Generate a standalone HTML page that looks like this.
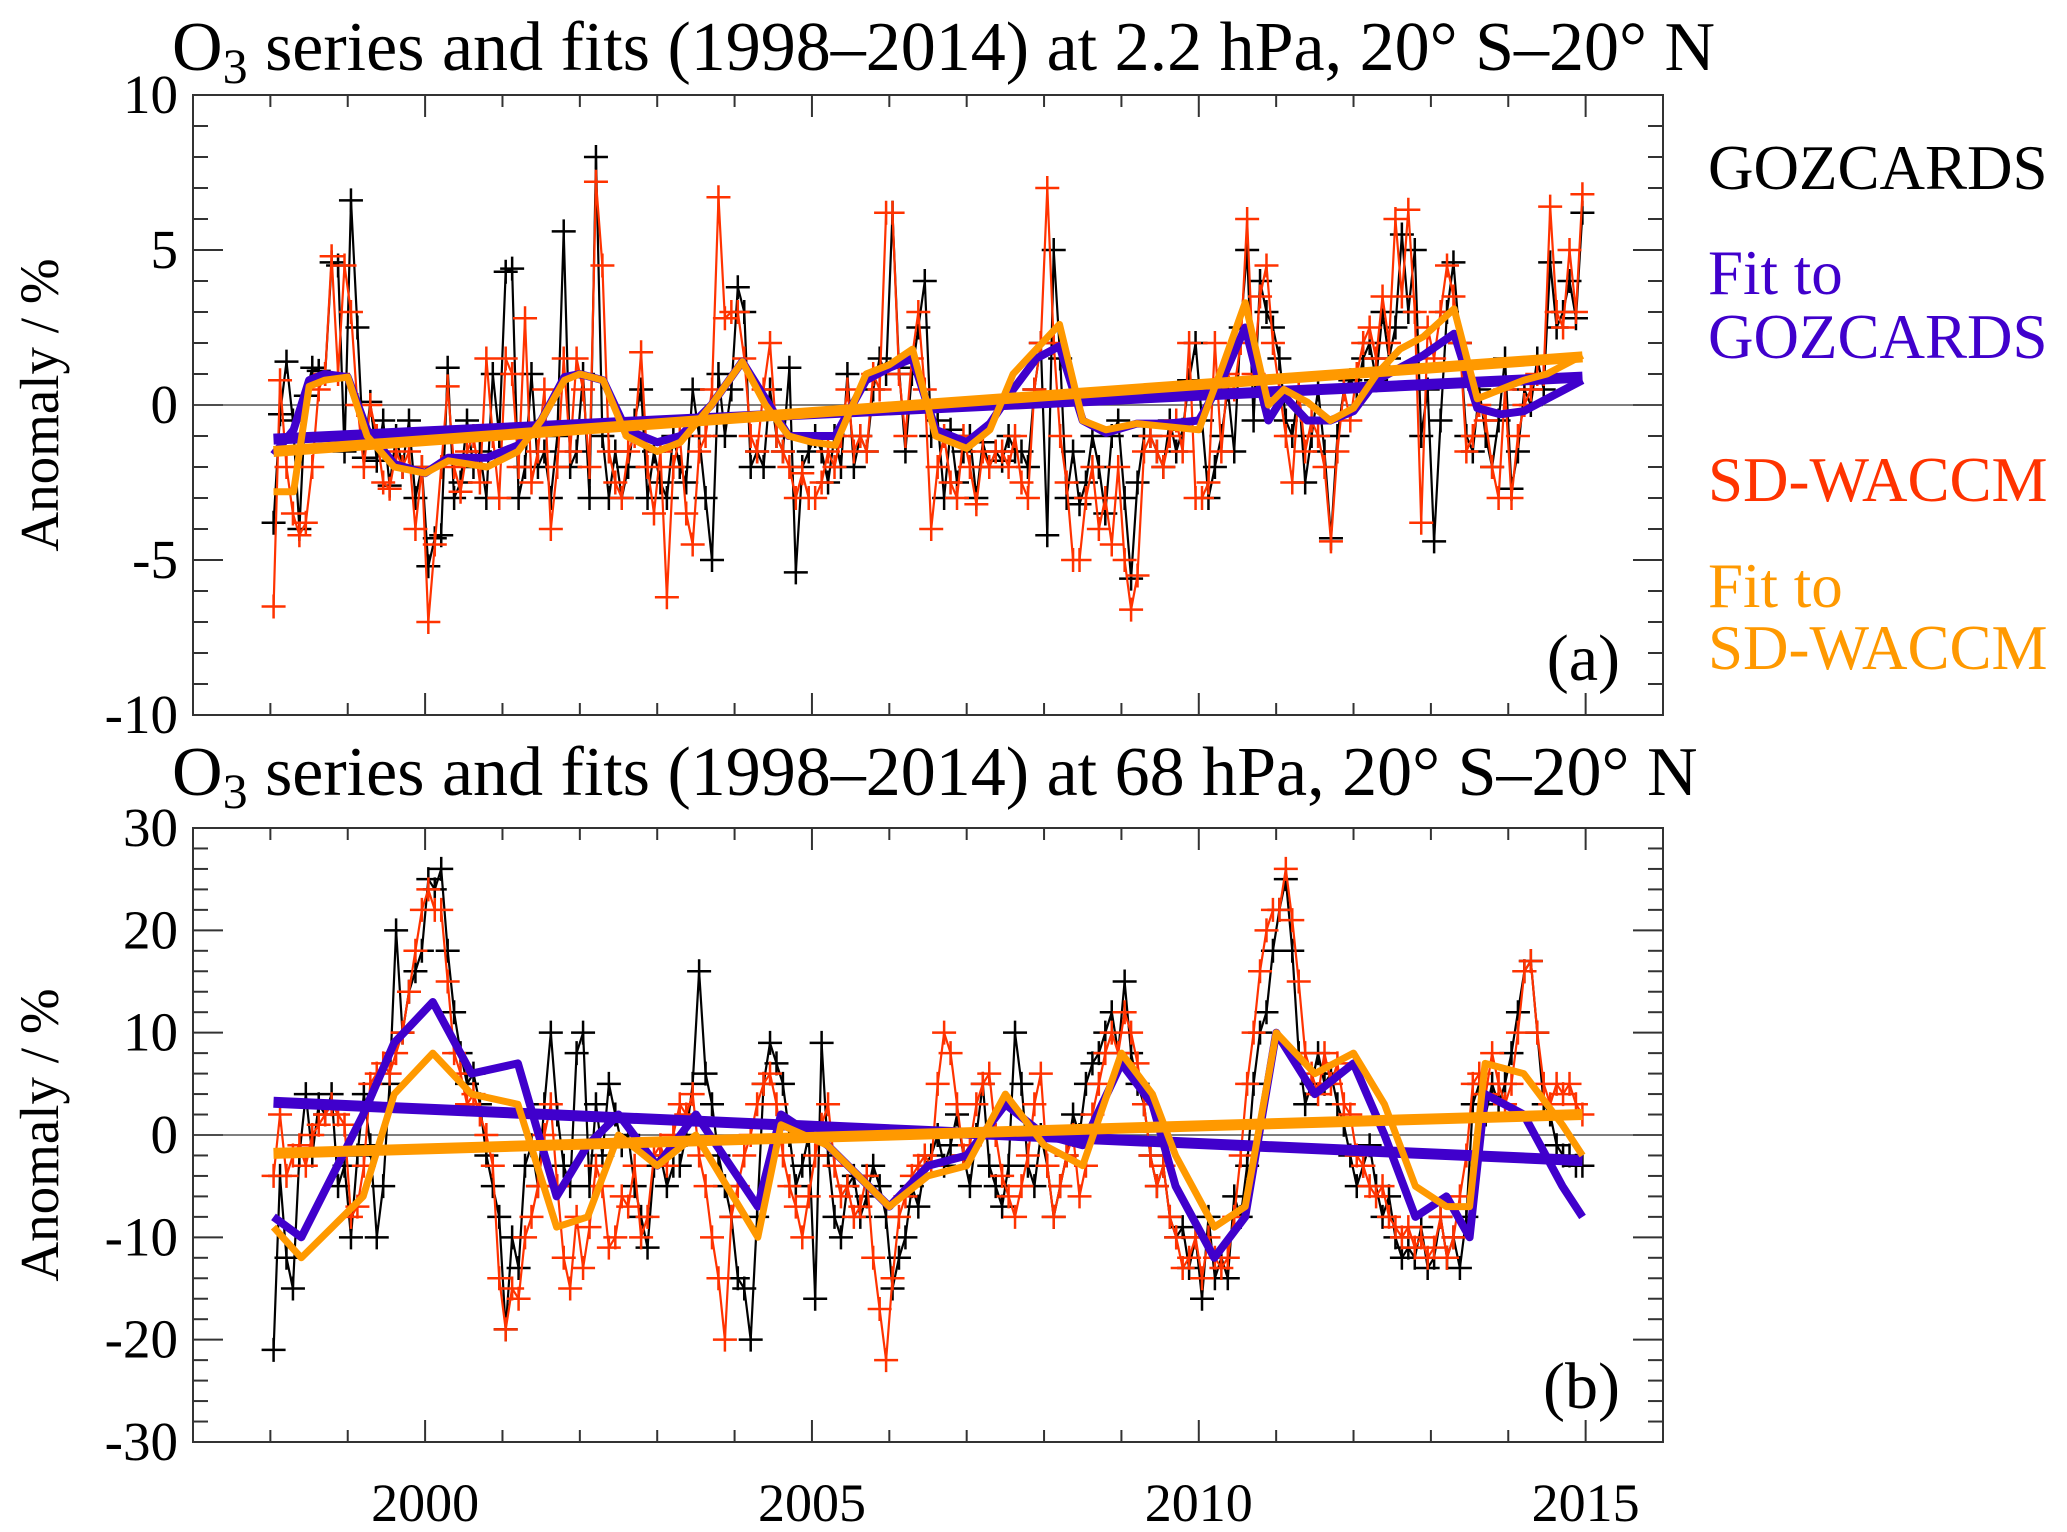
<!DOCTYPE html>
<html><head><meta charset="utf-8"><style>
html,body{margin:0;padding:0;background:#fff;}
svg{display:block;font-family:"Liberation Serif",serif;}
</style></head><body>
<svg id="chart" width="2067" height="1532" viewBox="0 0 2067 1532" xmlns="http://www.w3.org/2000/svg">
<text x="172" y="70" font-size="70">O<tspan font-size="50" dy="13">3</tspan><tspan dy="-13"> series and fits (1998–2014) at 2.2 hPa, 20° S–20° N</tspan></text>
<text x="172" y="795" font-size="70">O<tspan font-size="50" dy="13">3</tspan><tspan dy="-13"> series and fits (1998–2014) at 68 hPa, 20° S–20° N</tspan></text>
<g font-size="63">
<text x="1708" y="189" fill="#000">GOZCARDS</text>
<text x="1708" y="294" fill="#4000CC">Fit to</text>
<text x="1708" y="358" fill="#4000CC">GOZCARDS</text>
<text x="1708" y="501" fill="#FF3300">SD-WACCM</text>
<text x="1708" y="607" fill="#FF9900">Fit to</text>
<text x="1708" y="669" fill="#FF9900">SD-WACCM</text>
</g>
<g id="pa"></g>
<g id="pb"></g>
</svg>
<script>
const xTickYears=[2000,2005,2010,2015];
const yTicksA=[-10,-5,0,5,10];
const yTicksB=[-30,-20,-10,0,10,20,30];
const startYear=1998;
const gozA=[
-3.8,-0.3,1.4,-0.5,-4.0,0.3,1.2,1.1,1.0,4.6,4.5,-1.5,
6.6,2.5,-1.7,0.1,-1.8,-0.5,-2.6,-1.0,-2.0,-0.5,-3.0,-2.0,
-5.2,-4.3,-4.2,1.2,-3.0,-2.5,-0.5,-2.0,-1.5,-3.0,1.0,-1.0,
4.3,4.4,-3.0,-2.0,1.0,-2.0,-1.5,-3.0,-1.0,5.6,-2.0,-1.5,
1.0,-3.0,8.0,-1.0,-3.0,-1.5,-3.0,-2.0,-0.5,0.5,-3.0,-1.5,
-2.5,-3.0,-1.0,-2.0,-2.5,0.5,-1.0,-3.0,-5.0,1.0,-1.0,0.5,
3.8,3.0,-2.0,-1.5,-2.0,0.5,-1.0,-1.5,1.2,-5.4,-2.0,-1.5,
-1.0,-1.5,-2.5,-1.0,-2.0,1.0,-2.0,-1.0,-1.5,0.5,1.5,1.0,
6.2,1.2,-1.5,1.0,2.5,4.0,-1.0,-0.5,-3.0,-0.8,-2.5,-1.5,
-1.0,-3.0,-1.2,-2.0,-1.5,-1.8,-1.0,-1.5,-1.5,-2.0,0.5,2.0,
-4.2,5.0,1.5,-3.0,-1.5,-3.2,-2.5,-1.0,-2.0,-3.5,-1.0,-0.5,
-3.0,-5.6,-2.5,-1.0,-1.0,-1.5,-2.0,-0.5,-1.5,-0.8,0.8,2.0,
-0.5,-3.0,-2.0,-1.0,0.5,-1.5,2.5,5.0,-0.5,4.0,3.0,2.5,
1.5,-0.5,-1.0,0.5,-2.5,-1.0,0.5,-1.5,-4.3,-1.0,0.5,0.8,
0.5,1.5,2.0,0.8,3.0,1.5,2.5,5.5,3.0,5.0,-1.0,0.5,
-4.4,-0.5,3.0,4.6,2.0,-1.0,-1.5,0.5,-1.0,-2.0,-0.5,1.5,
-2.7,-1.5,0.5,0.0,1.5,0.5,4.6,2.5,3.0,4.0,2.8,6.2];
const wacA=[
-6.5,0.8,-2.0,-3.5,-4.2,-3.8,-2.0,0.5,1.0,4.8,1.0,4.5,
3.0,0.0,-2.0,0.0,-1.0,-2.5,-2.7,-1.5,-2.0,-1.5,-4.0,-2.0,
-7.0,-4.5,-2.0,0.6,-2.0,-2.8,-1.5,-1.0,-2.5,1.5,-1.0,-3.0,
1.5,1.0,-2.0,2.8,-2.5,-1.5,0.5,-4.0,-2.0,1.5,-1.5,1.5,
0.5,-2.0,7.2,4.5,-1.5,-2.5,-3.0,-1.5,-1.0,1.7,-2.0,-3.5,
-1.5,-6.2,-2.0,-1.0,-3.5,-4.5,-1.5,-1.0,0.5,6.7,2.8,3.0,
3.0,1.5,-1.0,-1.5,0.5,2.0,-1.0,-1.5,-2.0,-3.0,-2.2,-3.0,
-3.0,-2.5,-1.5,-2.0,-1.0,0.5,-1.5,-1.0,-1.5,1.0,0.5,6.2,
6.2,1.0,-1.0,1.5,3.0,0.5,-4.0,-2.0,-1.0,-2.5,-3.0,-1.0,
-2.0,-3.2,-1.5,-2.0,-1.5,-1.5,-2.0,-1.0,-2.5,-3.0,0.5,2.0,
7.0,2.0,-1.0,-2.5,-5.0,-5.0,-3.0,-2.0,-4.0,-3.0,-4.5,-2.0,
-5.0,-6.6,-5.5,-1.5,-1.0,-1.5,-2.0,-1.0,-0.5,-1.5,2.0,-3.0,
-3.0,-2.5,2.0,-1.5,1.0,0.5,2.0,6.0,1.0,3.5,4.5,2.0,
0.5,-1.0,-2.5,0.5,-1.5,-0.5,-1.0,-2.0,-4.4,-1.5,0.5,-0.5,
1.0,2.0,2.5,1.5,3.5,2.0,6.0,3.5,6.3,3.0,-3.8,2.5,
1.5,3.0,4.5,3.5,2.0,-1.5,-1.0,0.0,-0.5,-2.0,-3.0,0.5,
-3.0,-1.0,0.0,0.5,1.0,1.0,6.4,3.0,2.5,5.0,3.0,6.8];
const fitGozATimes=[1998.04,1998.3,1998.5,1998.7,1999.0,1999.25,1999.6,2000.0,2000.3,2000.8,2001.2,2001.5,2001.8,2002.0,2002.3,2002.6,2003.0,2003.3,2003.7,2004.1,2004.4,2004.7,2005.0,2005.3,2005.7,2006.0,2006.3,2006.6,2007.0,2007.3,2007.6,2007.9,2008.2,2008.5,2008.8,2009.2,2009.6,2010.0,2010.3,2010.6,2010.9,2011.1,2011.4,2011.7,2012.0,2012.3,2012.6,2012.9,2013.3,2013.6,2013.9,2014.2,2014.5,2014.96];
const fitGozAVals=[-1.6,-0.8,0.8,1.0,0.9,-0.8,-1.9,-2.2,-1.7,-1.7,-1.3,-0.5,0.9,1.0,0.8,-0.8,-1.2,-1.0,0.0,1.4,0.2,-1.0,-1.0,-1.0,0.8,1.2,1.5,-0.8,-1.2,-0.6,0.5,1.5,1.9,-0.5,-0.9,-0.6,-0.6,-0.5,0.8,2.5,-0.5,0.3,-0.5,-0.5,-0.2,0.8,1.2,1.6,2.3,-0.1,-0.3,-0.2,0.2,0.8];
const fitWacAVals=[-2.8,-2.8,0.6,0.8,0.9,-1.0,-2.0,-2.2,-1.8,-2.0,-1.5,-0.5,0.8,1.0,0.8,-1.0,-1.5,-1.2,0.0,1.4,0.0,-1.0,-1.2,-1.3,1.0,1.3,1.8,-1.0,-1.4,-0.8,1.0,1.8,2.6,-0.5,-0.8,-0.6,-0.7,-0.8,1.2,3.3,0.0,0.5,0.1,-0.5,-0.1,1.0,1.8,2.2,3.1,0.2,0.5,0.8,1.0,1.6];
const trendTimes=[1998.04,2014.96];
const trendGozA=[-1.1,0.9];
const trendWacA=[-1.5,1.55];
const gozB=[
-21,-4,-12,-15,-2,4,-2,3,2,4,-5,-3,
-10,-2,4,-1,-10,-5,5,20,10,14,16,18,
25,24,26,18,12,8,5,6,3,-2,-5,-8,
-19,-10,-13,-3,-1,-5,3,10,2,-3,-5,8,
10,-5,3,-2,5,2,-1,0,-5,-8,-11,-3,
-2,-5,-3,-3,0,5,16,6,3,-2,-5,-8,
-14,-15,-20,-8,5,9,7,5,0,-5,-3,0,
-16,9,-2,-8,-10,-5,-4,-8,-6,-3,-5,-8,
-15,-12,-10,-5,-7,-3,-2,0,-3,-1,2,-2,
-5,0,5,-3,-5,-7,-3,10,5,-3,-5,0,
-3,-8,-5,-2,2,0,5,7,8,10,12,8,
15,8,5,3,-2,-5,-3,-8,-10,-9,-13,-10,
-16,-8,-14,-12,-14,-6,-8,-3,5,10,12,18,
22,25,18,8,3,5,8,5,6,3,1,-2,
-5,-3,-1,-5,-8,-6,-10,-12,-11,-12,-9,-13,
-12,-8,-12,-10,-13,-8,3,5,2,5,3,5,
8,12,16,17,10,3,2,-1,-2,-2,-3,-3];
const wacB=[
-4,2,-4,-2,-1,-3,0,1,2,3,2,1,
-8,-7,-3,5,6,7,6,8,10,14,18,22,
24,22,22,15,8,6,3,4,2,0,-3,-14,
-19,-15,-16,-10,-8,-5,0,3,-5,-12,-15,-8,
-13,-9,-3,-5,-11,-10,-6,-7,-3,-10,-8,-2,
-1,-3,0,3,2,4,-2,-5,-10,-14,-20,-8,
-5,-2,0,3,5,6,3,-2,-5,-7,-10,-6,
-2,1,3,-3,-6,-5,-8,-7,-4,-12,-17,-22,
-14,-8,-6,-4,-3,-2,-3,5,10,8,3,-2,
-1,3,5,6,0,-4,-6,-8,-5,-2,3,6,
-3,-8,-5,-2,0,-6,-3,2,5,8,10,8,
12,10,7,3,-2,-5,-3,-8,-10,-13,-12,-10,
-14,-10,-12,-13,-12,-8,-2,5,10,16,20,22,
22,26,21,15,8,6,4,8,5,7,3,2,
-2,-3,-5,-6,-5,-8,-9,-10,-9,-11,-10,-12,
-11,-8,-12,-10,-6,-2,5,6,4,8,5,3,
5,10,16,17,10,5,3,5,4,5,3,2];
const fitGozBTimes=[1998.04,1998.4,1998.8,1999.2,1999.6,2000.1,2000.6,2001.2,2001.7,2002.1,2002.5,2003.0,2003.5,2004.3,2004.6,2005.2,2006.0,2006.5,2007.0,2007.5,2008.0,2008.5,2009.0,2009.4,2009.7,2010.2,2010.6,2011.0,2011.5,2012.0,2012.4,2012.8,2013.2,2013.5,2013.7,2014.2,2014.7,2014.96];
const fitGozBVals=[-8,-10,-4,2,9,13,6,7,-6,-1,2,-3,2,-7,2,-1,-7,-3,-2,3,0,-1,7,3,-5,-12,-8,10,4,7,0,-8,-6,-10,4,2,-5,-8];
const fitWacBVals=[-9,-12,-9,-6,4,8,4,3,-9,-8,0,-3,0,-10,1,-1,-7,-4,-3,4,-1,-3,8,4,-2,-9,-7,10,6,8,3,-5,-7,-7,7,6,1,-2];
const trendGozB=[3.2,-2.5];
const trendWacB=[-1.8,2.0];

const NS='http://www.w3.org/2000/svg';
const X0=193,X1=1663,T0=1997,T1=2016;
function xs(t){return X0+(t-T0)/(T1-T0)*(X1-X0);}
function mk(tag,attrs,parent){const e=document.createElementNS(NS,tag);for(const k in attrs)e.setAttribute(k,attrs[k]);parent.appendChild(e);return e;}
function monthT(i){return startYear+(i+0.5)/12;}

function panel(g,top,bot,ymin,ymax,yTicks,minorStep,series,label,labelY){
  const ys=v=>bot-(v-ymin)/(ymax-ymin)*(bot-top);
  for(let v=ymin;v<=ymax+1e-9;v+=minorStep){
    const major=yTicks.some(t=>Math.abs(t-v)<1e-9);
    const L=major?30:15;
    const l1=mk('line',{x1:X0,x2:X0+L,y1:ys(v),y2:ys(v),stroke:'#333','stroke-width':2},g);
    
    
    const l2=mk('line',{x1:X1,x2:X1-L,y1:ys(v),y2:ys(v),stroke:'#333','stroke-width':2},g);
    
    
  }
  yTicks.forEach(v=>{
    const t=mk('text',{x:178,y:ys(v)+18,'text-anchor':'end','font-size':55},g);
    t.textContent=String(v);
    
    
  });
  for(let yr=T0+1;yr<T1;yr++){
    const major=xTickYears.includes(yr);
    const L=major?22:12;
    const a=mk('line',{x1:xs(yr),x2:xs(yr),y1:bot,y2:bot-L,stroke:'#333','stroke-width':2},g);
    
    
    const b=mk('line',{x1:xs(yr),x2:xs(yr),y1:top,y2:top+L,stroke:'#333','stroke-width':2},g);
    
    
  }
  const z=mk('line',{x1:X0,x2:X1,y1:ys(0),y2:ys(0),stroke:'#555','stroke-width':1.5},g);
  
  
  const cg=mk('g',{},g);
  
  
  function monthly(vals,color,name){
    const pts=vals.map((v,i)=>xs(monthT(i)).toFixed(1)+','+ys(v).toFixed(1)).join(' ');
    const p=mk('polyline',{points:pts,fill:'none',stroke:color,'stroke-width':2.2,'stroke-linejoin':'round'},cg);
    
    
    let d='';
    vals.forEach((v,i)=>{const x=xs(monthT(i)),y=ys(v);d+='M'+(x-12)+' '+y+'h24M'+x+' '+(y-12)+'v24';});
    const m=mk('path',{d:d,stroke:color,'stroke-width':2.5,fill:'none'},cg);
    
    
  }
  function curve(times,vals,color,w,name){
    const pts=vals.map((v,i)=>xs(times[i]).toFixed(1)+','+ys(v).toFixed(1)).join(' ');
    const p=mk('polyline',{points:pts,fill:'none',stroke:color,'stroke-width':w,'stroke-linejoin':'round'},cg);
    
    
  }
  monthly(series.goz,'#000','gozcards');
  monthly(series.wac,'#FF3300','sd-waccm');
  curve(trendTimes,series.tg,'#4000CC',11,'trend-gozcards');
  curve(series.ft,series.fg,'#4000CC',8,'fit-gozcards');
  curve(trendTimes,series.tw,'#FF9900',11,'trend-sd-waccm');
  curve(series.ft,series.fw,'#FF9900',7,'fit-sd-waccm');
  const fr=mk('rect',{x:X0,y:top,width:X1-X0,height:bot-top,fill:'none',stroke:'#333','stroke-width':2},g);
  
  
  const lb=mk('text',{x:1620,y:labelY,'text-anchor':'end','font-size':66},g);
  lb.textContent=label;
  
  
  const yt=mk('text',{x:0,y:0,'text-anchor':'middle','font-size':55,transform:'translate(58,'+((top+bot)/2)+') rotate(-90)'},g);
  yt.textContent='Anomaly / %';
  
  
}
panel(document.getElementById('pa'),95,715,-10,10,yTicksA,1,{goz:gozA,wac:wacA,ft:fitGozATimes,fg:fitGozAVals,fw:fitWacAVals,tg:trendGozA,tw:trendWacA},'(a)',680);
panel(document.getElementById('pb'),828,1442,-30,30,yTicksB,2,{goz:gozB,wac:wacB,ft:fitGozBTimes,fg:fitGozBVals,fw:fitWacBVals,tg:trendGozB,tw:trendWacB},'(b)',1408);
const svg=document.getElementById('chart');
xTickYears.forEach(yr=>{
  const t=mk('text',{x:xs(yr),y:1521,'text-anchor':'middle','font-size':54},svg);
  t.textContent=String(yr);
  
  
});
</script>
</body></html>
